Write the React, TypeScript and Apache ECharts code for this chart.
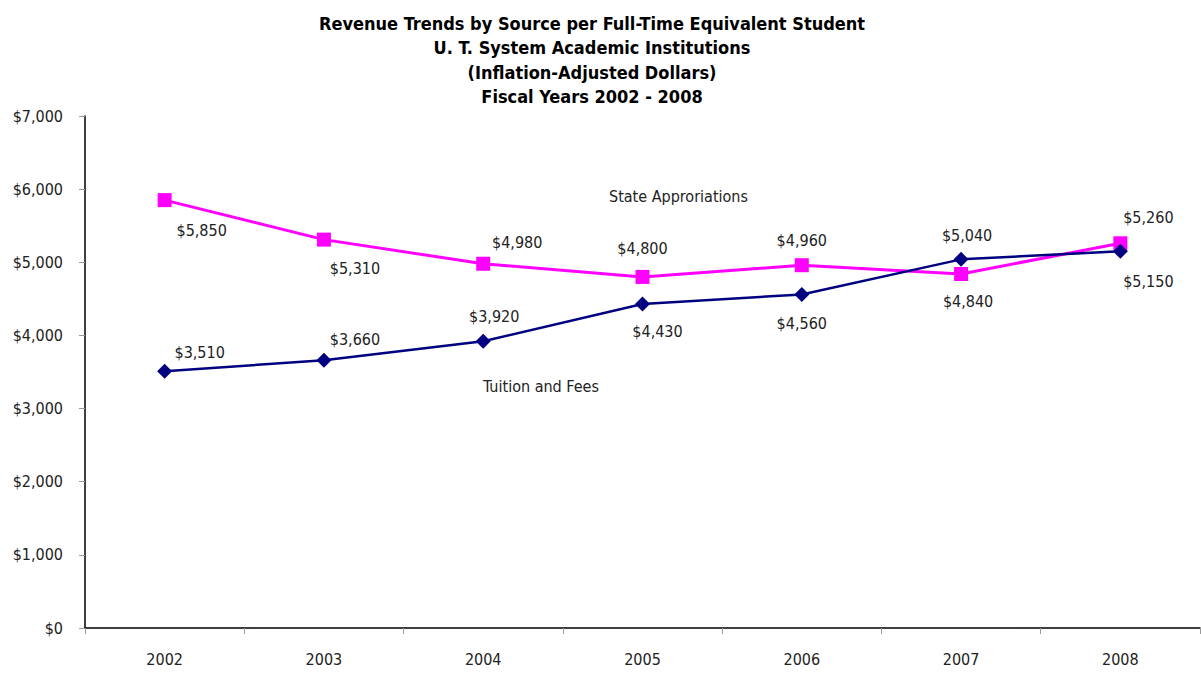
import React, { useEffect, useRef } from "react";
import * as echarts from "echarts";

const titleLines = [
  "Revenue Trends by Source per Full-Time Equivalent Student",
  "U. T. System Academic Institutions",
  "(Inflation-Adjusted Dollars)",
  "Fiscal Years 2002 - 2008",
];
const years = ["2002", "2003", "2004", "2005", "2006", "2007", "2008"];
const stateApprop = [5850, 5310, 4980, 4800, 4960, 4840, 5260];
const tuitionFees = [3510, 3660, 3920, 4430, 4560, 5040, 5150];
const yTicks = [0, 1000, 2000, 3000, 4000, 5000, 6000, 7000];

// label placement (layout only): [dx, dy]
const stateLabelOffsets = [
  [37, 30], [31, 29], [34, -21], [0, -28], [0, -25], [7, 28], [28, -26],
];
const tuitionLabelOffsets = [
  [35, -19], [31, -21], [11, -25], [15, 28], [0, 29], [6, -24], [28, 30],
];

const FONT = "'Liberation Sans Narrow', 'Arial Narrow', 'DejaVu Sans Condensed', sans-serif";
const fmt = (v: number) => "$" + v.toLocaleString("en-US");

export default function App() {
  const ref = useRef<HTMLDivElement>(null);
  useEffect(() => {
    const chart = echarts.init(ref.current!, null, { renderer: "svg" });
    const mkData = (vals: number[], offs: number[][]) =>
      vals.map((v, i) => ({
        value: v,
        label: { offset: [offs[i][0], offs[i][1]] },
      }));
    const labelStyle = {
      show: true,
      position: "inside",
      formatter: (p: any) => fmt(p.value),
      fontFamily: FONT,
      fontSize: 16,
      color: "#222",
    };
    chart.setOption({
      animation: false,
      backgroundColor: "#ffffff",
      title: {
        text: titleLines.join("\n"),
        left: 587,
        textAlign: "center",
        top: 6,
        textStyle: {
          fontFamily: FONT,
          fontSize: 18,
          fontWeight: "bold",
          color: "#000",
          lineHeight: 24.5,
        },
      },
      grid: { left: 85, right: 1, top: 116, bottom: 47, containLabel: false },
      xAxis: {
        type: "category",
        data: years,
        boundaryGap: true,
        axisLine: { lineStyle: { color: "#000", width: 1.5 } },
        axisTick: { show: true, length: 6, lineStyle: { color: "#999" } },
        axisLabel: {
          margin: 23,
          fontFamily: FONT,
          fontSize: 16,
          color: "#222",
        },
      },
      yAxis: {
        type: "value",
        min: 0,
        max: 7000,
        interval: 1000,
        axisLine: { show: true, lineStyle: { color: "#000", width: 1.5 } },
        axisTick: { show: true, length: 6, lineStyle: { color: "#999" } },
        splitLine: { show: false },
        axisLabel: {
          margin: 22,
          fontFamily: FONT,
          fontSize: 16,
          color: "#222",
          formatter: (v: number) => (yTicks.includes(v) ? fmt(v) : ""),
        },
      },
      series: [
        {
          name: "State Approriations",
          type: "line",
          data: mkData(stateApprop, stateLabelOffsets),
          symbol: "rect",
          symbolSize: 14,
          lineStyle: { color: "#ff00ff", width: 3 },
          itemStyle: { color: "#ff00ff" },
          label: labelStyle,
        },
        {
          name: "Tuition and Fees",
          type: "line",
          data: mkData(tuitionFees, tuitionLabelOffsets),
          symbol: "diamond",
          symbolSize: 15,
          lineStyle: { color: "#000080", width: 2.5 },
          itemStyle: { color: "#000080" },
          label: labelStyle,
        },
      ],
      graphic: [
        {
          type: "text",
          left: 609,
          top: 188,
          style: { text: "State Approriations", font: `16px ${FONT}`, fill: "#222" },
        },
        {
          type: "text",
          left: 483,
          top: 378,
          style: { text: "Tuition and Fees", font: `16px ${FONT}`, fill: "#222" },
        },
      ],
    });
    return () => chart.dispose();
  }, []);
  return (
    <div
      ref={ref}
      style={{ position: "fixed", left: 0, top: 0, width: 1201, height: 675 }}
    />
  );
}
